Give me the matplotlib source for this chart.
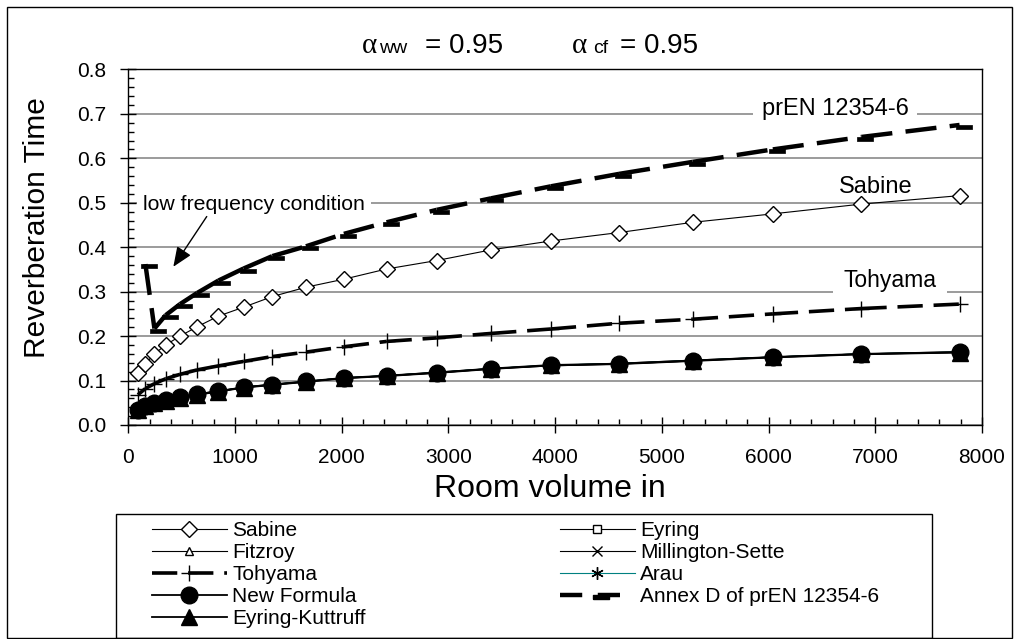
import numpy as np
import matplotlib
matplotlib.use('Agg')
import matplotlib.pyplot as plt
from matplotlib.lines import Line2D
from matplotlib.patches import Rectangle
from matplotlib.ticker import MultipleLocator, FormatStrFormatter

plt.rcParams['font.family'] = ['Liberation Sans', 'DejaVu Sans']

# room volumes (x) shared by all curves
volume = [90, 160, 245, 350, 485, 645, 845, 1080, 1350, 1665, 2020, 2420,
          2890, 3400, 3960, 4600, 5290, 6040, 6870, 7790]

sabine = [0.116, 0.138, 0.160, 0.180, 0.200, 0.221, 0.245, 0.265, 0.289, 0.310,
          0.328, 0.351, 0.370, 0.394, 0.414, 0.433, 0.456, 0.475, 0.497, 0.516]
eyring = [0.035, 0.044, 0.050, 0.057, 0.063, 0.070, 0.077, 0.085, 0.092, 0.098,
          0.106, 0.111, 0.119, 0.127, 0.134, 0.139, 0.146, 0.153, 0.160, 0.165]
fitzroy = [0.034, 0.043, 0.050, 0.056, 0.062, 0.070, 0.076, 0.085, 0.091, 0.098,
           0.106, 0.111, 0.118, 0.127, 0.134, 0.138, 0.145, 0.153, 0.160, 0.164]
millington = [0.033, 0.042, 0.049, 0.055, 0.061, 0.069, 0.075, 0.084, 0.090, 0.097,
              0.105, 0.110, 0.117, 0.126, 0.133, 0.137, 0.144, 0.152, 0.159, 0.163]
tohyama = [0.068, 0.082, 0.093, 0.104, 0.114, 0.124, 0.133, 0.143, 0.154, 0.164,
           0.176, 0.188, 0.196, 0.206, 0.216, 0.229, 0.238, 0.250, 0.262, 0.272]
arau = [0.034, 0.043, 0.050, 0.056, 0.062, 0.069, 0.076, 0.085, 0.091, 0.098,
        0.106, 0.111, 0.118, 0.127, 0.135, 0.138, 0.145, 0.153, 0.160, 0.164]
new_formula = [0.034, 0.043, 0.050, 0.056, 0.062, 0.069, 0.076, 0.085, 0.091, 0.098,
               0.106, 0.111, 0.118, 0.127, 0.135, 0.138, 0.145, 0.153, 0.160, 0.164]
annex_d = [np.nan, 0.362, 0.217, 0.247, 0.272, 0.297, 0.325, 0.352, 0.380, 0.402,
           0.430, 0.456, 0.484, 0.510, 0.537, 0.565, 0.592, 0.620, 0.648, 0.675]
eyring_kuttruff = [0.033, 0.042, 0.049, 0.055, 0.061, 0.068, 0.075, 0.084, 0.090, 0.097,
                   0.105, 0.110, 0.117, 0.126, 0.134, 0.137, 0.144, 0.152, 0.159, 0.163]

W, H = 1018, 639


def fx(px):
    return px / W


def fy(py):
    return 1 - py / H


fig = plt.figure(figsize=(W / 100, H / 100), dpi=100)
ax = fig.add_axes([fx(128.3), fy(425), (982 - 128.3) / W, (425 - 69.4) / H])

# excel "dash" marker: short thick bar sitting a bit below/right of the point
bar_marker = [(-0.55, -0.55), (1.45, -0.55), (1.45, -0.05), (-0.55, -0.05), (-0.55, -0.55)]
DASH = (7, 3)


def dashed_by_segment(x, y, lw, z):
    # excel restarts the dash pattern at every data point
    pts = [(a, b) for a, b in zip(x, y) if not np.isnan(b)]
    for (x0, y0), (x1, y1) in zip(pts[:-1], pts[1:]):
        ax.plot([x0, x1], [y0, y1], color='black', lw=lw, dashes=DASH,
                dash_capstyle='butt', zorder=z)


# series, in excel drawing order
ax.plot(volume, sabine, color='black', lw=0.8, marker='D', ms=8, mfc='white',
        mec='black', mew=1, zorder=2)
ax.plot(volume, eyring, color='black', lw=0.8, marker='s', ms=6, mfc='white',
        mec='black', mew=1, zorder=2.1)
ax.plot(volume, fitzroy, color='black', lw=0.8, marker='^', ms=6, mfc='white',
        mec='black', mew=1, zorder=2.2)
ax.plot(volume, millington, color='black', lw=0.8, marker='x', ms=7, mew=1, zorder=2.3)
dashed_by_segment(volume, tohyama, 2.6, 2.4)
ax.plot(volume, tohyama, ls='none', marker='+', ms=12, mec='black', mew=1, zorder=2.45)
ax.plot(volume, arau, color='#008080', lw=0.8, marker=(6, 2, 0), ms=9, mec='black',
        mew=1, zorder=2.5)
ax.plot(volume, new_formula, color='black', lw=1.3, marker='o', ms=12, mfc='black',
        mec='black', zorder=2.6)
dashed_by_segment(volume, annex_d, 3.2, 2.7)
ax.plot(volume, annex_d, ls='none', marker=bar_marker, ms=17, mfc='black', mec='black',
        mew=0.5, zorder=2.75)
ax.plot(volume, eyring_kuttruff, color='black', lw=1.3, marker='^', ms=11, mfc='black',
        mec='black', zorder=2.8)

ax.set_xlim(0, 8000)
ax.set_ylim(0, 0.8)
ax.xaxis.set_major_locator(MultipleLocator(1000))
ax.xaxis.set_minor_locator(MultipleLocator(200))
ax.yaxis.set_major_locator(MultipleLocator(0.1))
ax.yaxis.set_minor_locator(MultipleLocator(0.02))
ax.yaxis.set_major_formatter(FormatStrFormatter('%.1f'))
ax.tick_params(which='major', direction='inout', length=11, width=1, labelsize=15,
               colors='black')
ax.tick_params(axis='y', which='major', pad=10.4)
ax.tick_params(axis='x', which='major', pad=11.3)
ax.tick_params(which='minor', direction='in', length=4, width=1)
ax.yaxis.grid(True, color='#808080', lw=1.1)
ax.set_axisbelow(True)
for sp in ax.spines.values():
    sp.set_linewidth(1)
    sp.set_color('black')

# labels on the curves
ax.text(6623, 0.697, 'prEN 12354-6', fontsize=17, ha='center', va='baseline', zorder=1,
        bbox=dict(boxstyle='square,pad=0.35', fc='white', ec='none'))
ax.text(7006, 0.522, 'Sabine', fontsize=17, ha='center', va='baseline', zorder=1)
ax.text(7140, 0.311, 'Tohyama', fontsize=16.5, ha='center', va='baseline', zorder=1,
        bbox=dict(boxstyle='square,pad=0.45', fc='white', ec='none'))
ax.text(1178, 0.497, 'low frequency condition', fontsize=15.3, ha='center', va='center',
        zorder=1, bbox=dict(boxstyle='square,pad=0.3', fc='white', ec='none'))
ax.annotate('', xy=(422, 0.356), xytext=(735, 0.469),
            arrowprops=dict(arrowstyle='-|>,head_length=0.6,head_width=0.25',
                            mutation_scale=20, color='black', lw=1,
                            shrinkA=0, shrinkB=0))

# axis titles
fig.text(fx(37), fy(227.5), 'Reverberation Time', rotation=90, fontsize=21.5,
         ha='center', va='center')
fig.text(fx(550), fy(489), 'Room volume in', fontsize=23, ha='center', va='center')

# alpha header
fig.text(fx(362), fy(53), '\u03b1', family='Liberation Serif', fontsize=21, va='baseline')
fig.text(fx(379), fy(53), 'ww', fontsize=14, va='baseline')
fig.text(fx(425), fy(53), '= 0.95', fontsize=20, va='baseline')
fig.text(fx(572), fy(53), '\u03b1', family='Liberation Serif', fontsize=21, va='baseline')
fig.text(fx(593), fy(53), 'cf', fontsize=14, va='baseline')
fig.text(fx(620), fy(53), '= 0.95', fontsize=20, va='baseline')

# legend: two columns placed separately, one frame drawn round them
h_sab = Line2D([], [], color='black', lw=0.8, marker='D', ms=8, mfc='white', mec='black')
h_fitz = Line2D([], [], color='black', lw=0.8, marker='^', ms=6, mfc='white', mec='black')
h_toh = Line2D([], [], color='black', lw=2.6, dashes=DASH, marker='+', ms=12, mew=1)
h_nf = Line2D([], [], color='black', lw=1.3, marker='o', ms=12, mfc='black')
h_ek = Line2D([], [], color='black', lw=1.3, marker='^', ms=11, mfc='black')
h_ey = Line2D([], [], color='black', lw=0.8, marker='s', ms=6, mfc='white', mec='black')
h_mil = Line2D([], [], color='black', lw=0.8, marker='x', ms=7, mew=1)
h_arau = Line2D([], [], color='#008080', lw=0.8, marker=(6, 2, 0), ms=9, mec='black', mew=1)
h_ann = Line2D([], [], color='black', lw=3.2, dashes=(5, 3.5), marker=bar_marker, ms=17,
               mfc='black', mec='black')

leg_kw = dict(loc='upper left', frameon=False, fontsize=15, borderpad=0,
              borderaxespad=0, handlelength=3.63, handletextpad=0.25,
              labelspacing=0.15, numpoints=1, handleheight=0.7)
leg1 = fig.legend([h_sab, h_fitz, h_toh, h_nf, h_ek],
                  ['Sabine', 'Fitzroy', 'Tohyama', 'New Formula', 'Eyring-Kuttruff'],
                  bbox_to_anchor=(fx(151.5), fy(521)), **leg_kw)
leg2 = fig.legend([h_ey, h_mil, h_arau, h_ann],
                  ['Eyring', 'Millington-Sette', 'Arau', 'Annex D of prEN 12354-6'],
                  bbox_to_anchor=(fx(559.6), fy(521)), **leg_kw)

fig.patches.append(Rectangle((fx(116.3), fy(637.5)), (932.3 - 116.3) / W, (637.5 - 514.3) / H,
                             transform=fig.transFigure, fill=False, ec='black', lw=1))
fig.patches.append(Rectangle((fx(6.5), fy(637.5)), (1011.5 - 6.5) / W, (637.5 - 6.5) / H,
                             transform=fig.transFigure, fill=False, ec='black', lw=1))

fig.savefig('out.png', dpi=100)
